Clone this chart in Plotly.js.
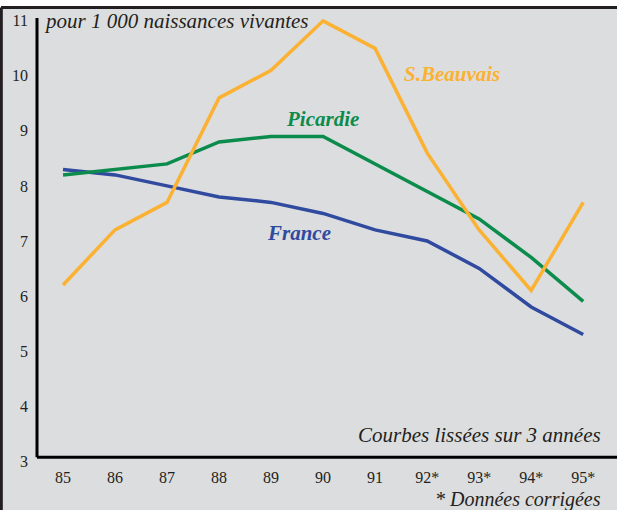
<!DOCTYPE html>
<html>
<head>
<meta charset="utf-8">
<script src="https://cdn.plot.ly/plotly-3.0.1.min.js"></script>
<style>
  html, body { margin: 0; padding: 0; background: #ffffff; }
  #chart { width: 617px; height: 510px; }
</style>
</head>
<body>
<div id="chart"></div>
<script>
// Mortalité infantile, pour 1 000 naissances vivantes (courbes lissées sur 3 années)
const years = ['85', '86', '87', '88', '89', '90', '91', '92*', '93*', '94*', '95*'];
const france = [8.3, 8.2, 8.0, 7.8, 7.7, 7.5, 7.2, 7.0, 6.5, 5.8, 5.3];
const picardie = [8.2, 8.3, 8.4, 8.8, 8.9, 8.9, 8.4, 7.9, 7.4, 6.7, 5.9];
const beauvais = [6.2, 7.2, 7.7, 9.6, 10.1, 11.0, 10.5, 8.6, 7.2, 6.1, 7.7];
const yTicks = [3, 4, 5, 6, 7, 8, 9, 10, 11];

const serif = 'Liberation Serif, Times New Roman, serif';
const idx = years.map((_, i) => i);

function line(values, name, color) {
    return {
        x: idx,
        y: values,
        name: name,
        type: 'scatter',
        mode: 'lines',
        line: { color: color, width: 3.5 },
        hoverinfo: 'skip'
    };
}

const traces = [
    line(france, 'France', '#2f4a9f'),
    line(picardie, 'Picardie', '#0b8c4c'),
    line(beauvais, 'S.Beauvais', '#fbb131')
];

const layout = {
    width: 617,
    height: 510,
    showlegend: false,
    margin: { l: 37, r: 0, t: 17, b: 49 },
    paper_bgcolor: '#dcdddf',
    plot_bgcolor: '#dcdddf',
    font: { family: serif, size: 16, color: '#231f20' },
    xaxis: {
        range: [-0.5, 10.65],
        tickvals: idx,
        ticktext: years,
        showgrid: false,
        zeroline: false,
        showline: false,
        ticks: '',
        ticklabelstandoff: 5,
        fixedrange: true
    },
    yaxis: {
        range: [3, 11.07],
        tickvals: yTicks,
        ticktext: yTicks.map(String),
        showgrid: false,
        zeroline: false,
        showline: false,
        ticks: '',
        ticklabelstandoff: 8,
        fixedrange: true
    },
    shapes: [
        // white strip above the frame
        { type: 'rect', xref: 'paper', yref: 'paper', x0: -0.1, x1: 1.1, y0: 1.02, y1: 1.2,
          fillcolor: '#ffffff', line: { width: 0 }, layer: 'below' },
        // outer frame (top and left)
        { type: 'line', xref: 'paper', yref: 'paper', x0: -0.062, x1: 1.1, y0: 1.0215, y1: 1.0215,
          line: { color: '#231f20', width: 3 } },
        { type: 'line', xref: 'paper', yref: 'paper', x0: -0.0615, x1: -0.0615, y0: -0.2, y1: 1.0215,
          line: { color: '#231f20', width: 3 } },
        // axis lines
        { type: 'line', xref: 'paper', yref: 'y', x0: 0, x1: 1.1, y0: 3.07, y1: 3.07,
          line: { color: '#000000', width: 3 } },
        { type: 'line', xref: 'paper', yref: 'y', x0: 0, x1: 0, y0: 3.07, y1: 11.05,
          line: { color: '#000000', width: 3 } }
    ],
    annotations: [
        { text: 'pour 1 000 naissances vivantes', xref: 'paper', yref: 'y', x: 0.008, y: 11.0,
          xanchor: 'left', yanchor: 'middle', showarrow: false,
          font: { family: serif, size: 21, style: 'italic', color: '#231f20' } },
        { text: 'Courbes lissées sur 3 années', xref: 'paper', yref: 'y', x: 0.975, y: 3.47,
          xanchor: 'right', yanchor: 'middle', showarrow: false,
          font: { family: serif, size: 21, style: 'italic', color: '#231f20' } },
        { text: '* Données corrigées', xref: 'paper', yref: 'paper', x: 0.975, y: -0.087,
          xanchor: 'right', yanchor: 'middle', showarrow: false,
          font: { family: serif, size: 20, style: 'italic', color: '#231f20' } },
        { text: '<b>S.Beauvais</b>', xref: 'x', yref: 'y', x: 7.47, y: 10.03,
          xanchor: 'center', yanchor: 'middle', showarrow: false,
          font: { family: serif, size: 21, style: 'italic', color: '#fbb131' } },
        { text: '<b>Picardie</b>', xref: 'x', yref: 'y', x: 4.99, y: 9.22,
          xanchor: 'center', yanchor: 'middle', showarrow: false,
          font: { family: serif, size: 21, style: 'italic', color: '#0b8c4c' } },
        { text: '<b>France</b>', xref: 'x', yref: 'y', x: 4.53, y: 7.14,
          xanchor: 'center', yanchor: 'middle', showarrow: false,
          font: { family: serif, size: 21, style: 'italic', color: '#2f4a9f' } }
    ]
};

Plotly.newPlot('chart', traces, layout, { displayModeBar: false, staticPlot: true });
</script>
</body>
</html>
